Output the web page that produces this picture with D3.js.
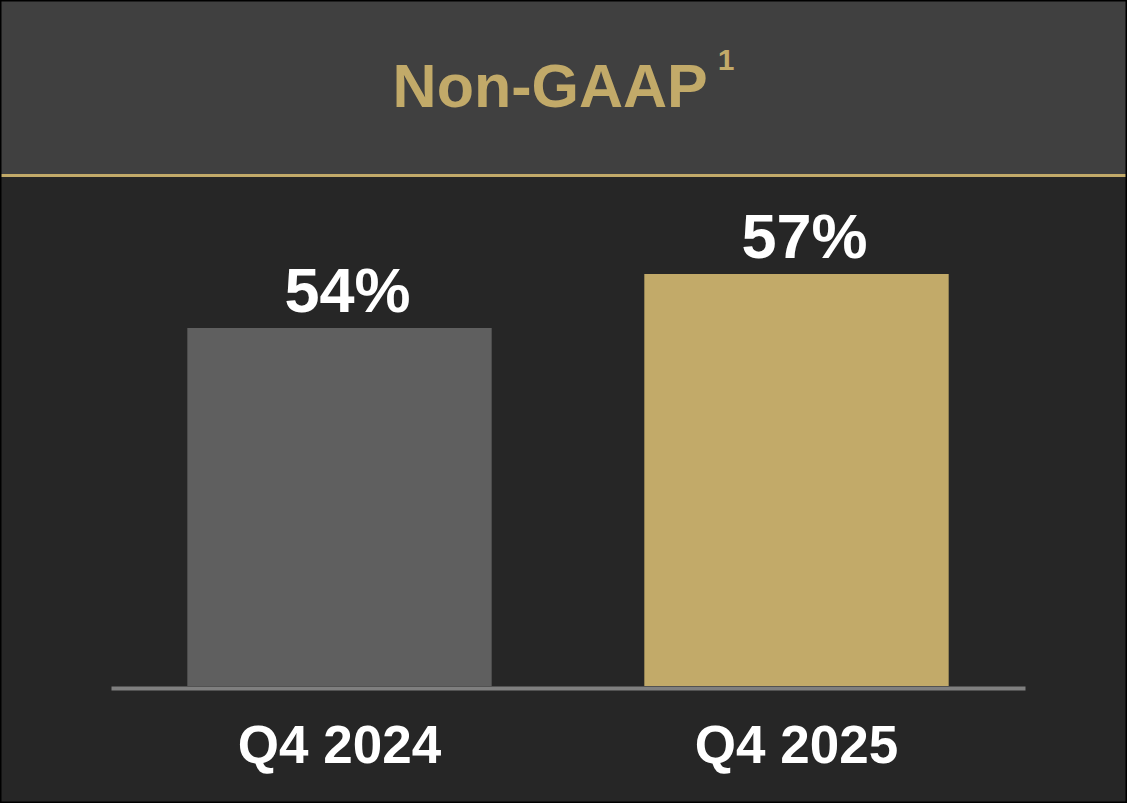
<!DOCTYPE html>
<html>
<head>
<meta charset="utf-8">
<script src="https://cdn.jsdelivr.net/npm/d3@7"></script>
<style>
  html, body { margin: 0; padding: 0; background: #262626; }
  svg { display: block; }
</style>
</head>
<body>
<svg id="chart"></svg>
<script>
'use strict'

const categories = ['Q4 2024', 'Q4 2025']
const values = [54, 57]
const valueLabels = ['54%', '57%']
const barColors = ['#5f5f5f', '#c2aa69']
const titleText = 'Non-GAAP'
const titleNote = '1'

const width = 1127
const height = 803
const gold = '#c2aa69'
const font = 'Liberation Sans, Arial, Helvetica, sans-serif'

const svg = d3.select('#chart')
  .attr('width', width)
  .attr('height', height)
  .attr('font-family', font)

// background + header band
svg.append('rect')
  .attr('x', 0).attr('y', 0)
  .attr('width', width).attr('height', height)
  .attr('fill', '#262626')

svg.append('rect')
  .attr('x', 0).attr('y', 0)
  .attr('width', width).attr('height', 174)
  .attr('fill', '#404040')

svg.append('rect')
  .attr('x', 0).attr('y', 174)
  .attr('width', width).attr('height', 3)
  .attr('fill', gold)

// outer frame
svg.append('rect')
  .attr('x', 0.5).attr('y', 0.5)
  .attr('width', width - 1).attr('height', height - 1)
  .attr('fill', 'none')
  .attr('stroke', '#000')
  .attr('stroke-width', 2)

const title = svg.append('text')
  .attr('x', width / 2)
  .attr('y', 107)
  .attr('text-anchor', 'middle')
  .attr('fill', gold)
  .attr('font-weight', 'bold')
  .attr('font-size', 61)
title.append('tspan').text(titleText)
title.append('tspan')
  .attr('font-size', 30)
  .attr('dx', 10)
  .attr('dy', -37)
  .text(titleNote)

// scales
const x = d3.scaleBand()
  .domain(categories)
  .range([111, 1025])
  .paddingInner(0.334)
  .paddingOuter(0.167)

const y = d3.scaleLinear()
  .domain([34.1, 57])
  .range([686, 274])

svg.selectAll('rect.bar')
  .data(values)
  .enter().append('rect')
  .attr('class', 'bar')
  .attr('x', (d, i) => x(categories[i]))
  .attr('width', x.bandwidth())
  .attr('y', d => y(d))
  .attr('height', d => y.range()[0] - y(d))
  .attr('fill', (d, i) => barColors[i])

svg.selectAll('text.val')
  .data(values)
  .enter().append('text')
  .attr('class', 'val')
  .attr('x', (d, i) => x(categories[i]) + x.bandwidth() / 2 + 8)
  .attr('y', d => y(d) - 16)
  .attr('text-anchor', 'middle')
  .attr('fill', '#fff')
  .attr('font-weight', 'bold')
  .attr('font-size', 63)
  .text((d, i) => valueLabels[i])

// baseline axis
const axis = svg.append('g')
  .attr('transform', `translate(0,${y.range()[0]})`)
  .call(d3.axisBottom(x).tickSize(0).tickPadding(0))

axis.select('.domain')
  .attr('stroke', '#7f7f7f')
  .attr('stroke-width', 4)
  .attr('transform', 'translate(0,2)')

axis.selectAll('.tick text')
  .attr('fill', '#fff')
  .attr('font-family', font)
  .attr('font-weight', 'bold')
  .attr('font-size', 53)
  .attr('dy', 0)
  .attr('y', 77)
</script>
</body>
</html>
